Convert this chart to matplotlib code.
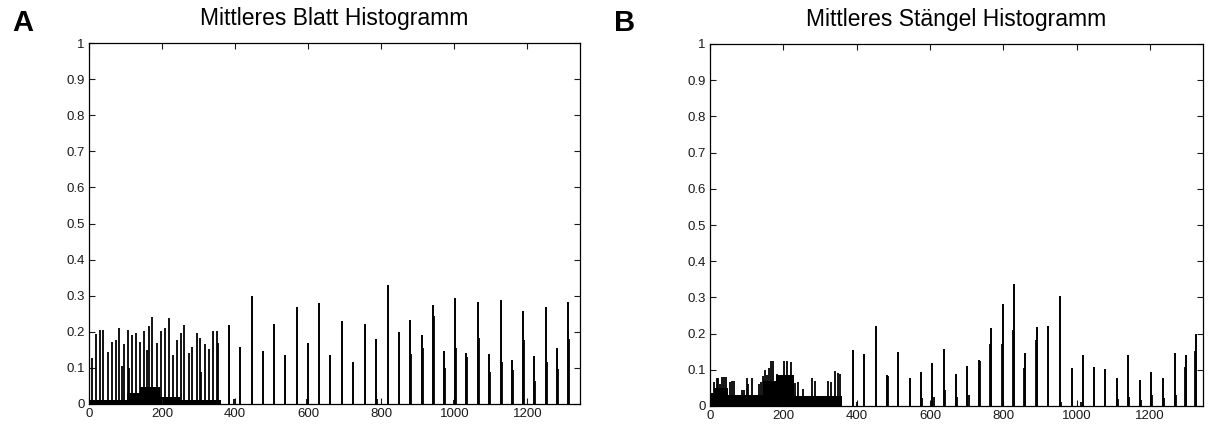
import numpy as np
import matplotlib.pyplot as plt

plt.rcParams.update({'font.family': 'Liberation Sans'})
plt.rcParams.update({'xtick.direction': 'in', 'ytick.direction': 'in'})

# Mittleres Blatt (A): dense part (bins 0-360) and sparse peaks
blatt_dense_bins = [9, 18, 30, 39, 53, 62, 74, 83, 89, 96, 106, 109, 119, 130, 140,
                    151, 160, 163, 173, 185, 196, 207, 218, 230, 240, 251, 261, 274,
                    283, 296, 305, 307, 317, 328, 340, 350, 353]
blatt_dense_vals = [0.127, 0.195, 0.205, 0.205, 0.143, 0.172, 0.176, 0.211, 0.106,
                    0.167, 0.205, 0.100, 0.190, 0.198, 0.172, 0.202, 0.150, 0.216,
                    0.240, 0.169, 0.202, 0.211, 0.238, 0.137, 0.176, 0.198, 0.219,
                    0.142, 0.158, 0.198, 0.183, 0.090, 0.167, 0.153, 0.202, 0.202,
                    0.170]
blatt_floor_edges = [0, 103, 140, 193, 250, 360]
blatt_floor_vals = [0.011, 0.03, 0.048, 0.02, 0.01]
blatt_peak_bins = [382, 413, 445, 475, 506, 537, 568, 599, 630, 661, 693, 724, 755,
                   786, 818, 848, 879, 911, 941, 971, 1002, 1033, 1064, 1096, 1127,
                   1158, 1188, 1219, 1250, 1281, 1312]
blatt_peak_vals = [0.219, 0.157, 0.299, 0.146, 0.221, 0.135, 0.269, 0.170, 0.280,
                   0.135, 0.229, 0.115, 0.222, 0.179, 0.331, 0.199, 0.232, 0.190,
                   0.274, 0.146, 0.294, 0.140, 0.282, 0.138, 0.288, 0.123, 0.257,
                   0.133, 0.269, 0.154, 0.282]
blatt_sec_bins = [396, 596, 789, 882, 914, 944, 975, 999, 1005, 1036, 1067, 1099,
                  1130, 1161, 1191, 1222, 1253, 1284, 1315]
blatt_sec_vals = [0.014, 0.015, 0.015, 0.138, 0.154, 0.245, 0.100, 0.010, 0.154,
                  0.129, 0.182, 0.090, 0.117, 0.093, 0.178, 0.065, 0.117, 0.096,
                  0.180]

# Mittleres Stängel (B)
stengel_dense_bins = [12, 18, 23, 27, 33, 39, 44, 55, 61, 66, 86, 93, 100, 104, 114,
                      134, 139, 145, 151, 156, 162, 167, 173, 184, 191, 202, 209,
                      221, 232, 241, 254, 278, 286, 323, 330, 341, 348, 354]
stengel_dense_vals = [0.065, 0.076, 0.076, 0.060, 0.079, 0.080, 0.080, 0.065, 0.070,
                      0.070, 0.044, 0.044, 0.076, 0.060, 0.076, 0.060, 0.067, 0.083,
                      0.099, 0.085, 0.104, 0.123, 0.123, 0.088, 0.082, 0.123, 0.123,
                      0.122, 0.063, 0.065, 0.046, 0.076, 0.068, 0.070, 0.065, 0.097,
                      0.090, 0.088]
stengel_floor_edges = [0, 12, 50, 145, 180, 230, 360]
stengel_floor_vals = [0.035, 0.05, 0.03, 0.07, 0.085, 0.028]
stengel_peak_bins = [391, 420, 452, 482, 513, 544, 575, 606, 637, 670, 701, 733, 767,
                     799, 830, 859, 891, 922, 954, 986, 1016, 1047, 1078, 1109, 1140,
                     1171, 1202, 1236, 1267, 1297, 1326]
stengel_peak_vals = [0.155, 0.145, 0.221, 0.085, 0.149, 0.077, 0.094, 0.120, 0.157,
                     0.089, 0.111, 0.127, 0.216, 0.283, 0.336, 0.147, 0.217, 0.221,
                     0.304, 0.105, 0.142, 0.107, 0.101, 0.076, 0.142, 0.071, 0.095,
                     0.076, 0.146, 0.141, 0.199]
stengel_sec_bins = [400, 484, 579, 610, 641, 674, 705, 736, 764, 796, 826, 856, 888,
                    958, 1011, 1112, 1143, 1174, 1205, 1239, 1270, 1294, 1323]
stengel_sec_vals = [0.010, 0.083, 0.023, 0.026, 0.044, 0.026, 0.030, 0.124, 0.170,
                    0.170, 0.210, 0.106, 0.181, 0.012, 0.010, 0.018, 0.025, 0.017,
                    0.030, 0.022, 0.030, 0.108, 0.151]

fig = plt.figure(figsize=(12.09, 4.28), dpi=100)
W, H = 1209, 428
axA = fig.add_axes([89 / W, 1 - 404 / H, 491 / W, 361 / H])
axB = fig.add_axes([710 / W, 1 - 406 / H, 493 / W, 362 / H])

panels = [
    (axA, 'Mittleres Blatt Histogramm', 'A',
     blatt_dense_bins, blatt_dense_vals, blatt_floor_edges, blatt_floor_vals,
     blatt_peak_bins, blatt_peak_vals, blatt_sec_bins, blatt_sec_vals),
    (axB, 'Mittleres Stängel Histogramm', 'B',
     stengel_dense_bins, stengel_dense_vals, stengel_floor_edges, stengel_floor_vals,
     stengel_peak_bins, stengel_peak_vals, stengel_sec_bins, stengel_sec_vals),
]

for (ax, title, letter, dbins, dvals, fedges, fvals,
     pbins, pvals, sbins, svals) in panels:
    ax.stairs(fvals, fedges, fill=True, color='black', lw=0)
    ax.vlines(dbins, 0, dvals, color='black', lw=1.3)
    ax.vlines(pbins, 0, pvals, color='black', lw=1.4)
    ax.vlines(sbins, 0, svals, color='black', lw=1.3)

    ax.set_xlim(0, 1344)
    ax.set_ylim(0, 1)
    ax.set_xticks(np.arange(0, 1400, 200))
    ax.set_yticks(np.arange(0, 1.01, 0.1))
    ax.set_yticklabels(['0'] + ['%.1f' % v for v in np.arange(0.1, 0.95, 0.1)] + ['1'])
    ax.tick_params(top=True, right=True, length=4, width=0.8, labelsize=9.5,
                   pad=3, colors='#1a1a1a')
    for s in ax.spines.values():
        s.set_linewidth(0.9)
    ax.set_title(title, fontsize=16.5, pad=13)

fig.text(23 / W, 1 - 23 / H, 'A', fontsize=21, fontweight='bold',
         ha='center', va='center')
fig.text(625 / W, 1 - 23 / H, 'B', fontsize=21, fontweight='bold',
         ha='center', va='center')

fig.savefig('out.png', dpi=100)
